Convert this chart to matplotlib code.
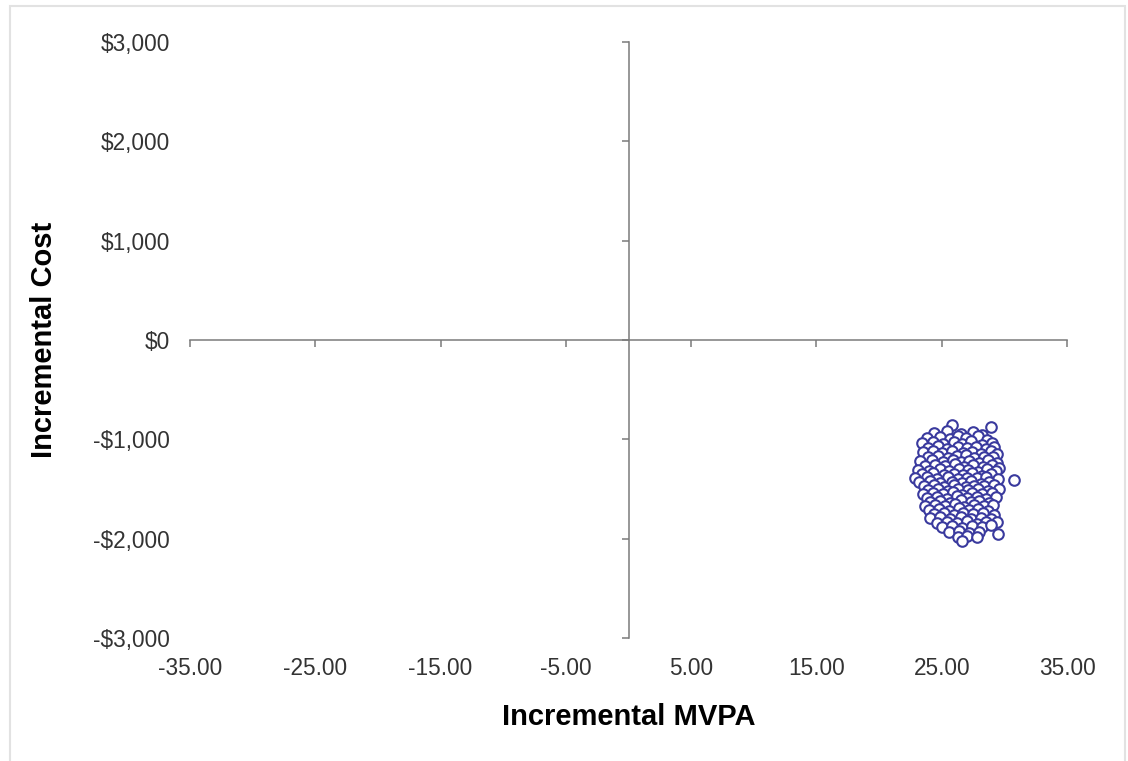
import matplotlib
matplotlib.use("Agg")
import matplotlib.pyplot as plt
from matplotlib.patches import Rectangle

# ------------------------------------------------------------
# data (one row of the cloud per line)
# ------------------------------------------------------------
mvpa = [
    25.8, 28.9,
    24.4, 25.4, 26.5, 27.5, 28.2,
    23.8, 24.9, 25.7, 26.3, 26.9, 27.9, 28.6,
    23.4, 24.3, 25.1, 26.0, 26.6, 27.3, 28.2, 29.0,
    23.9, 24.7, 25.4, 26.3, 27.0, 27.7, 28.5, 29.2,
    23.5, 24.3, 25.0, 25.8, 26.7, 27.4, 28.1, 28.9, 29.4,
    23.9, 24.7, 25.5, 26.2, 26.9, 27.6, 28.4, 29.1,
    23.3, 24.2, 25.1, 25.9, 26.5, 27.2, 28.0, 28.7, 29.4,
    23.7, 24.5, 25.3, 26.1, 26.8, 27.5, 28.3, 29.0, 29.6,
    23.1, 24.0, 24.9, 25.6, 26.4, 27.1, 27.9, 28.6, 29.3,
    23.4, 24.3, 25.2, 26.0, 26.7, 27.4, 28.2, 28.9,
    22.9, 23.8, 24.6, 25.5, 26.3, 27.0, 27.8, 28.5, 29.5,
    23.2, 24.1, 24.9, 25.8, 26.6, 27.3, 28.1, 28.8, 30.8,
    23.6, 24.4, 25.2, 26.0, 26.9, 27.6, 28.4, 29.2,
    23.9, 24.7, 25.5, 26.3, 27.1, 27.9, 28.7, 29.6,
    23.5, 24.3, 25.1, 25.9, 26.6, 27.4, 28.2, 29.0,
    23.8, 24.6, 25.4, 26.2, 27.0, 27.8, 28.5, 29.3,
    24.1, 24.9, 25.7, 26.5, 27.3, 28.0, 28.8,
    23.7, 24.5, 25.3, 26.1, 26.8, 27.6, 28.4, 29.1,
    24.0, 24.8, 25.6, 26.4, 27.2, 27.9, 28.7,
    24.4, 25.2, 26.0, 26.7, 27.5, 28.3, 29.2,
    24.1, 24.9, 25.7, 26.5, 27.3, 28.1, 28.9,
    24.6, 25.4, 26.2, 27.0, 27.8, 28.5, 29.4,
    25.0, 25.8, 26.6, 27.4, 28.2, 28.9,
    25.6, 26.4, 27.2, 28.0, 29.5,
    26.3, 27.0, 27.8,
    26.6,
]
cost = [
    -855, -875,
    -935, -920, -950, -925, -960,
    -990, -975, -1000, -965, -985, -970, -1005,
    -1040, -1025, -1050, -1030, -1045, -1020, -1055, -1035,
    -1085, -1070, -1095, -1080, -1090, -1075, -1100, -1080,
    -1130, -1120, -1140, -1115, -1135, -1125, -1145, -1120, -1150,
    -1175, -1165, -1185, -1170, -1160, -1190, -1175, -1180,
    -1220, -1210, -1230, -1205, -1225, -1215, -1235, -1210, -1240,
    -1265, -1255, -1270, -1250, -1275, -1260, -1280, -1255, -1285,
    -1305, -1315, -1300, -1320, -1295, -1310, -1325, -1300, -1320,
    -1350, -1340, -1360, -1345, -1355, -1335, -1365, -1345,
    -1390, -1380, -1395, -1375, -1400, -1385, -1390, -1380, -1395,
    -1430, -1420, -1440, -1425, -1435, -1415, -1445, -1425, -1410,
    -1470, -1460, -1475, -1455, -1480, -1465, -1470, -1460,
    -1510, -1500, -1520, -1495, -1515, -1505, -1520, -1500,
    -1550, -1540, -1555, -1535, -1560, -1545, -1550, -1540,
    -1590, -1580, -1600, -1575, -1595, -1585, -1600, -1580,
    -1630, -1620, -1640, -1615, -1635, -1625, -1640,
    -1670, -1660, -1675, -1655, -1680, -1665, -1670, -1660,
    -1710, -1700, -1720, -1695, -1715, -1705, -1720,
    -1750, -1740, -1760, -1745, -1755, -1740, -1765,
    -1795, -1785, -1800, -1780, -1805, -1790, -1800,
    -1840, -1830, -1845, -1825, -1850, -1835, -1830,
    -1885, -1875, -1890, -1870, -1880, -1865,
    -1935, -1925, -1940, -1930, -1955,
    -1980, -1970, -1985,
    -2020,
]

x_ticks = [-35, -25, -15, -5, 5, 15, 25, 35]
x_labels = ["-35.00", "-25.00", "-15.00", "-5.00", "5.00", "15.00", "25.00", "35.00"]
y_ticks = [-3000, -2000, -1000, 0, 1000, 2000, 3000]
y_labels = ["-$3,000", "-$2,000", "-$1,000", "$0", "$1,000", "$2,000", "$3,000"]

plt.rcParams["font.family"] = ["Liberation Sans", "DejaVu Sans"]

AXIS_GREY = "#7a7a7a"
TEXT_GREY = "#333333"

fig = plt.figure(figsize=(11.28, 7.61), dpi=100)
ax = fig.add_axes([190 / 1128, 123 / 761, 877 / 1128, 596 / 761])

# ------------------------------------------------------------
# scatter cloud
# ------------------------------------------------------------
ax.scatter(mvpa, cost, s=58, facecolor="white", edgecolor="#3a3a9e",
           linewidths=1.5, zorder=3)

ax.set_xlim(-35, 35)
ax.set_ylim(-3000, 3000)

# axes crossing at the origin
for side in ("top", "right"):
    ax.spines[side].set_visible(False)
ax.spines["left"].set_position(("data", 0))
ax.spines["bottom"].set_position(("data", 0))
for side in ("left", "bottom"):
    ax.spines[side].set_color(AXIS_GREY)
    ax.spines[side].set_linewidth(1.1)

ax.set_xticks(x_ticks)
ax.set_yticks(y_ticks)
ax.tick_params(direction="out", length=5, width=1.1, color=AXIS_GREY,
               labelleft=False, labelbottom=False)

# ------------------------------------------------------------
# tick labels at the plot edges
# ------------------------------------------------------------
secy = ax.secondary_yaxis("left")
secy.spines["left"].set_visible(False)
secy.set_yticks(y_ticks, y_labels)
secy.tick_params(length=0, pad=14.5, labelsize=16.3, labelcolor=TEXT_GREY)
secy.set_ylabel("Incremental Cost", fontsize=21, fontweight="bold", labelpad=25)

secx = ax.secondary_xaxis("bottom")
secx.spines["bottom"].set_visible(False)
secx.set_xticks(x_ticks, x_labels)
secx.tick_params(length=0, pad=14, labelsize=16.3, labelcolor=TEXT_GREY)
secx.set_xlabel("Incremental MVPA", fontsize=21, fontweight="bold", labelpad=16.5)

# light frame around the chart area
fig.patches.append(Rectangle((10 / 1128, -0.05), 1115 / 1128, 1.05 - 6 / 761,
                             transform=fig.transFigure, fill=False,
                             edgecolor="#e2e2e2", linewidth=1.5))

fig.savefig("out.png", dpi=100)
